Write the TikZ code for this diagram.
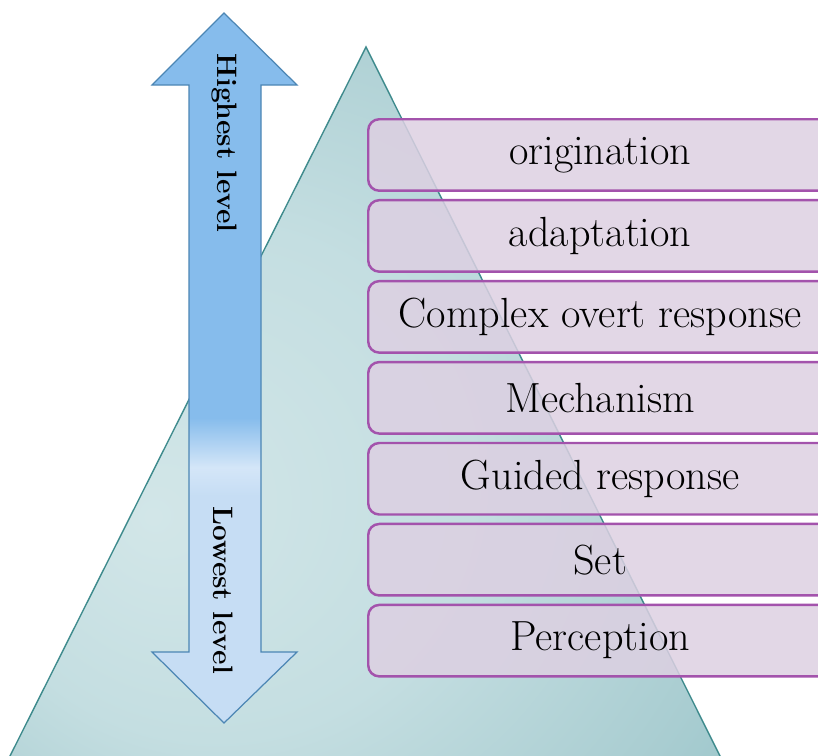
\documentclass[tikz,border=0pt]{standalone}
\usetikzlibrary{positioning}

\definecolor{pyramidline}{HTML}{3F8B8D}
\definecolor{pyramiddark}{HTML}{90C1C6}
\definecolor{pyramidmid}{HTML}{A9CDD1}
\definecolor{pyramidsoft}{HTML}{C4DEE1}
\definecolor{pyramidlow}{HTML}{D2E6E8}
\definecolor{arrowline}{HTML}{4C86B4}
\definecolor{arrowhigh}{HTML}{86BCEC}
\definecolor{arrowlow}{HTML}{C6DDF4}
\definecolor{arrowshine}{HTML}{D4E6F8}
\definecolor{levelline}{HTML}{A353AC}
\definecolor{levelfill}{HTML}{DDD0E2}

\pgfdeclareverticalshading{levelarrow}{100bp}{color(0bp)=(arrowlow); color(41bp)=(arrowlow); color(43bp)=(arrowshine); color(46.5bp)=(arrowhigh); color(100bp)=(arrowhigh)}
\pgfdeclareradialshading{pyramidglow}{\pgfpoint{-15bp}{-8bp}}{color(0bp)=(pyramidlow); color(18bp)=(pyramidsoft); color(34bp)=(pyramidmid); color(45bp)=(pyramiddark); color(60bp)=(pyramiddark)}

\tikzset{
  levelbox/.style={draw=levelline, line width=1.4pt, fill=levelfill, fill opacity=0.85, text opacity=1,
    rounded corners=0.22cm, minimum width=9.28cm, minimum height=1.43cm, anchor=north west,
    font=\fontsize{24}{28}\selectfont},
  levellabel/.style={rotate=-90, font=\fontsize{16}{19}\selectfont\bfseries}
}

\begin{document}
\begin{tikzpicture}[x=0.02cm,y=-0.02cm]
  \useasboundingbox (0,0) rectangle (818,755);

  % pyramid
  \coordinate (apex) at (366,47);
  \coordinate (baseleft) at (8,760);
  \coordinate (baseright) at (722,760);
  \draw[pyramidline, line width=0.8pt, shading=pyramidglow]
    (apex) -- (baseleft) -- (baseright) -- cycle;

  % double arrow
  \draw[arrowline, line width=0.7pt, shading=levelarrow]
    (224,13) -- (297,85) -- (261,85) -- (261,652) -- (297,652) -- (224,723)
    -- (152,652) -- (189,652) -- (189,85) -- (152,85) -- cycle;
  \node[levellabel] (highest) at (224,143) {Highest level};
  \node[levellabel] (lowest) at (223,590) {Lowest level};

  % levels
  \node[levelbox] (origination) at (367,118) {origination};
  \node[levelbox, below=0.14cm of origination] (adaptation) {adaptation};
  \node[levelbox, below=0.14cm of adaptation] (complex) {Complex overt response};
  \node[levelbox, below=0.14cm of complex] (mechanism) {Mechanism};
  \node[levelbox, below=0.14cm of mechanism] (guided) {Guided response};
  \node[levelbox, below=0.14cm of guided] (set) {Set};
  \node[levelbox, below=0.14cm of set] (perception) {Perception};
\end{tikzpicture}
\end{document}
